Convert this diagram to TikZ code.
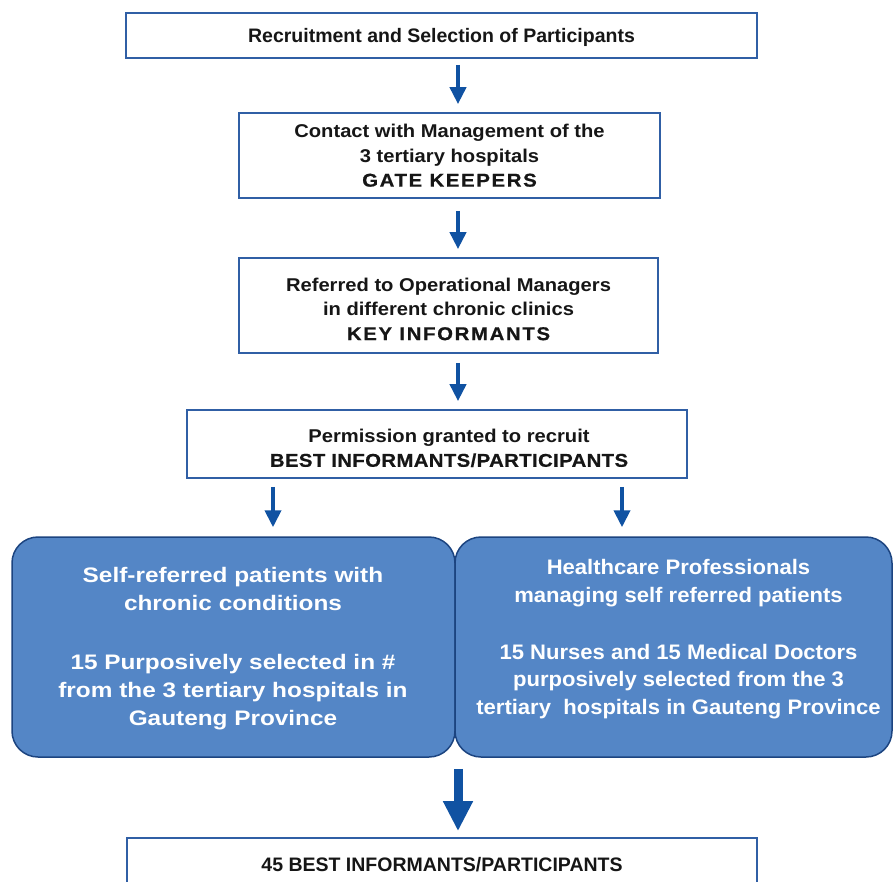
\documentclass[tikz,border=0pt]{standalone}
\usepackage{fontspec}
\setmainfont{Liberation Sans}
\newfontfamily\bodyfont{Liberation Sans}[FakeStretch=1.09]
\newfontfamily\widefont{Liberation Sans}[FakeStretch=1.1,LetterSpace=9,FakeBold=0.6]
\newfontfamily\leftpanelfont{Liberation Sans}[FakeStretch=1.16]
\newfontfamily\rightpanelfont{Liberation Sans}[FakeStretch=1.05]
\usetikzlibrary{arrows.meta}
\definecolor{edgeblue}{RGB}{48,95,165}
\definecolor{arrowblue}{RGB}{16,82,162}
\definecolor{panelblue}{RGB}{84,134,198}
\definecolor{paneledge}{RGB}{28,68,128}
\definecolor{inktext}{RGB}{22,22,22}
\begin{document}
\begin{tikzpicture}[x=1pt,y=-1pt,
  whitebox/.style={draw=edgeblue,line width=1.7pt,fill=white,inner sep=0pt},
  boxtext/.style={align=center,inner sep=0pt,text=inktext,
    font=\bodyfont\bfseries\fontsize{18.5}{24.5}\selectfont},
  titletext/.style={boxtext,font=\bfseries\fontsize{19.5}{24}\selectfont},
  panel/.style={draw=paneledge,line width=1.5pt,fill=panelblue,rounded corners=26pt,inner sep=0pt},
  paneltext/.style={align=center,inner sep=0pt,text=white},
  flow/.style={draw=arrowblue,line width=4pt,-{Triangle[width=16pt,length=17pt]}},
  bigflow/.style={draw=arrowblue,line width=9pt,-{Triangle[width=28pt,length=30pt]}}
]
\useasboundingbox (0,0) rectangle (893,882);
\clip (0,0) rectangle (893,882);
\coordinate (spine) at (458,0);
\coordinate (lsplit) at (273,0);
\coordinate (rsplit) at (622,0);

% white process boxes
\node[whitebox,minimum width=631pt,minimum height=45pt] (recruit) at (441.5,35.5) {};
\node[titletext] (recruittext) at (441.5,37)
  {Recruitment and Selection of Participants};

\node[whitebox,minimum width=421pt,minimum height=85pt] (contact) at (449.5,155.5) {};
\node[boxtext] (contacttext) at (449.5,155.5)
  {Contact with Management of the\\3 tertiary hospitals\\{\widefont\bfseries GATE KEEPERS}};

\node[whitebox,minimum width=419pt,minimum height=95pt] (referred) at (448.5,305.5) {};
\node[boxtext] (referredtext) at (448.5,309)
  {Referred to Operational Managers\\in different chronic clinics\\{\widefont\bfseries KEY INFORMANTS}};

\node[whitebox,minimum width=500pt,minimum height=68pt] (permission) at (437,444) {};
\node[boxtext] (permissiontext) at (449,448)
  {Permission granted to recruit\\{\widefont\bfseries\addfontfeatures{LetterSpace=2}BEST INFORMANTS/PARTICIPANTS}};

% blue panels
\node[panel,minimum width=443pt,minimum height=220pt] (selfref) at (233.5,647) {};
\node[paneltext,font=\leftpanelfont\bfseries\fontsize{21}{28}\selectfont] (selfreftext) at (233,648.5)
  {Self-referred patients with\\chronic conditions\\[31pt]15 Purposively selected in \#\\from the 3 tertiary hospitals in\\Gauteng Province};
\node[panel,minimum width=437pt,minimum height=220pt] (profs) at (673.5,647) {};
\node[paneltext,font=\rightpanelfont\bfseries\fontsize{21}{27.5}\selectfont] (profstext) at (678.5,639)
  {Healthcare Professionals\\managing self referred patients\\[29.5pt]15 Nurses and 15 Medical Doctors\\purposively selected from the 3\\tertiary\ \ hospitals in Gauteng Province};

% final box
\node[whitebox,minimum width=630pt,minimum height=52pt] (total) at (442,864) {};
\node[titletext] (totaltext) at (442,865)
  {45 BEST INFORMANTS/PARTICIPANTS};

% connectors
\draw[flow,shorten <=6pt,shorten >=8pt] (recruit.south -| spine) -- (contact.north -| spine);
\draw[flow,shorten <=12pt,shorten >=8pt] (contact.south -| spine) -- (referred.north -| spine);
\draw[flow,shorten <=9pt,shorten >=8pt] (referred.south -| spine) -- (permission.north -| spine);
\draw[flow,shorten <=8pt,shorten >=9pt] (permission.south -| lsplit) -- (selfref.north -| lsplit);
\draw[flow,shorten <=8pt,shorten >=9pt] (permission.south -| rsplit) -- (profs.north -| rsplit);
\draw[bigflow,shorten <=11pt,shorten >=6pt] (selfref.south -| spine) -- (total.north -| spine);
\end{tikzpicture}
\end{document}
